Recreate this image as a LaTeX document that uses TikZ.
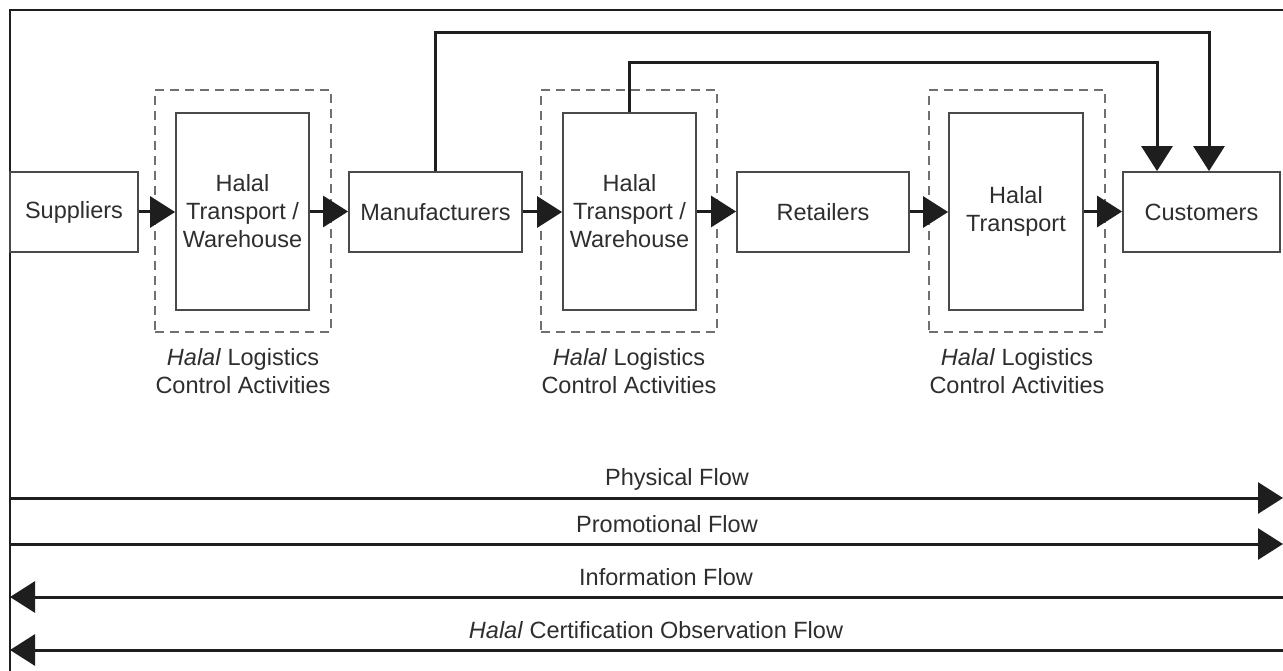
\documentclass[tikz,border=0pt]{standalone}
\usepackage{fontspec}
\setmainfont{Liberation Sans}
\usetikzlibrary{arrows.meta}
\definecolor{ink}{HTML}{1E1E1E}
\definecolor{boxline}{HTML}{4A4A4A}
\definecolor{dashline}{HTML}{707070}
\definecolor{txt}{HTML}{2E2E2E}
\tikzset{
  every node/.style={font=\fontsize{23.5}{28}\selectfont, text=txt},
  stage/.style={draw=boxline, line width=1.8pt, minimum height=80pt, inner sep=0pt},
  handler/.style={draw=boxline, line width=1.8pt, minimum width=133pt, minimum height=197pt, align=center, inner sep=0pt},
  control/.style={draw=dashline, line width=1.8pt, dash pattern=on 9pt off 6pt, minimum width=176pt, minimum height=242pt, inner sep=0pt},
  ctrllabel/.style={align=center, anchor=north, inner sep=0pt},
  conn/.style={draw=ink, line width=3pt, -{Triangle[length=25pt,width=31pt]}},
  flowlabel/.style={anchor=base, inner sep=0pt}
}
\begin{document}
\begin{tikzpicture}[x=1pt,y=-1pt]
\useasboundingbox (0,0) rectangle (1283,671);
% frame
\draw[ink, line width=2pt] (1283,10) -- (10,10) -- (10,671);

% control zones (dashed)
\node[control] (z1) at (243,211) {};
\node[control] (z2) at (629,211) {};
\node[control] (z3) at (1017,211) {};

% supply chain stages
\node[stage, minimum width=128pt] (sup) at (74,212) {Suppliers};
\node[handler] (h1) at (242.5,211.5) {Halal\\Transport /\\Warehouse};
\node[stage, minimum width=173pt] (man) at (435.5,212) {Manufacturers};
\node[handler] (h2) at (629.5,211.5) {Halal\\Transport /\\Warehouse};
\node[stage, minimum width=172pt] (ret) at (823,212) {Retailers};
\node[handler, minimum width=134pt] (h3) at (1016,211.5) {Halal\\Transport};
\node[stage, minimum width=157pt] (cus) at (1201.5,212) {Customers};

% zone captions
\node[ctrllabel] (l1) at (243,348) {\textit{Halal} Logistics\\Control Activities};
\node[ctrllabel] (l2) at (629,348) {\textit{Halal} Logistics\\Control Activities};
\node[ctrllabel] (l3) at (1017,348) {\textit{Halal} Logistics\\Control Activities};

% chain arrows
\draw[conn] (sup.east) -- (sup.east -| h1.west);
\draw[conn] (h1.east) -- (h1.east -| man.west);
\draw[conn] (man.east) -- (man.east -| h2.west);
\draw[conn] (h2.east) -- (h2.east -| ret.west);
\draw[conn] (ret.east) -- (ret.east -| h3.west);
\draw[conn] (h3.east) -- (h3.east -| cus.west);

% direct channels to customers
\draw[conn] (man.north) -- ++(0,-139) -| ([xshift=7.5pt]cus.north);
\draw[conn] (h2.north) -- ++(0,-50) -| ([xshift=-44.5pt]cus.north);

% flows
\coordinate (pL) at (10,498);  \coordinate (pR) at (1283,498);
\coordinate (mL) at (10,544);  \coordinate (mR) at (1283,544);
\coordinate (iL) at (10,597);  \coordinate (iR) at (1283,597);
\coordinate (cL) at (10,650);  \coordinate (cR) at (1283,650);
\draw[conn] (pL) -- (pR);
\draw[conn] (mL) -- (mR);
\draw[conn] (iR) -- (iL);
\draw[conn] (cR) -- (cL);
\node[flowlabel] (fp) at (677,485) {Physical Flow};
\node[flowlabel] (fm) at (667,532) {Promotional Flow};
\node[flowlabel] (fi) at (666,585) {Information Flow};
\node[flowlabel] (fc) at (656,638) {\textit{Halal} Certification Observation Flow};
\end{tikzpicture}
\end{document}
